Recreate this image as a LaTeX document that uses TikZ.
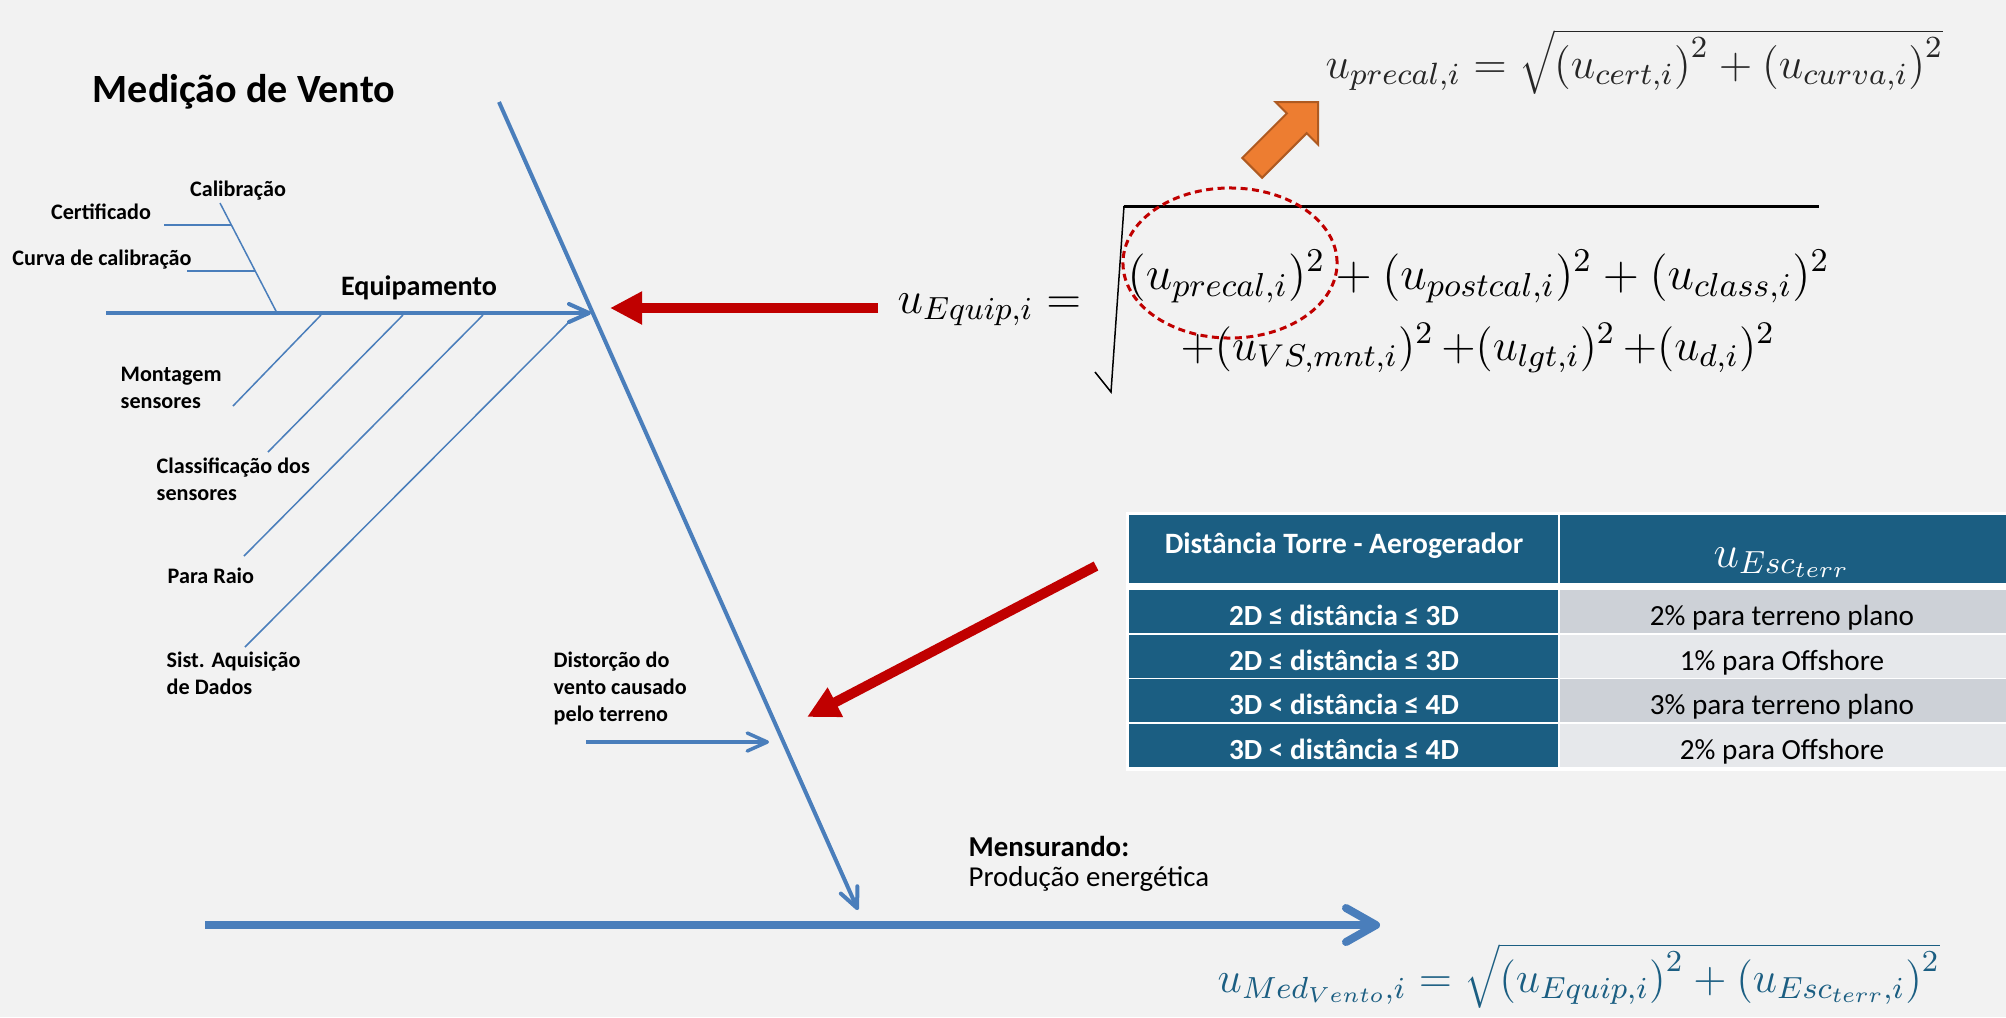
\RequirePackage{fix-cm}
\documentclass[tikz,border=0pt]{standalone}
\usepackage{fontspec}
\setmainfont{Carlito}
\usetikzlibrary{arrows.meta,shapes.geometric,shapes.arrows}
\definecolor{bgc}{HTML}{F2F2F2}
\definecolor{fish}{HTML}{4A7EBB}
\definecolor{redd}{HTML}{C00000}
\definecolor{orng}{HTML}{ED7D31}
\definecolor{orngd}{HTML}{AE5A21}
\definecolor{tabd}{HTML}{1B5E82}
\definecolor{rowa}{HTML}{CDD1D7}
\definecolor{rowb}{HTML}{E6E8EB}
\definecolor{eqgrey}{HTML}{262626}

\begin{document}
\begin{tikzpicture}[x=0.01cm,y=-0.01cm,
    every node/.style={inner sep=0pt},
    lab/.style={font=\fontsize{6.3}{7.7}\selectfont\bfseries,align=left},
    twig/.style={fish,line width=0.015cm},
    bone/.style={fish,line width=0.04cm,-{Straight Barb[length=0.2cm,width=0.18cm,round]}},
    redarr/.style={redd,line width=0.1cm,-{Triangle[length=0.32cm,width=0.31cm]}},
    eqfont/.style={font=\fontsize{13.5}{16}\selectfont},
    tabl/.style={font=\fontsize{8.3}{10}\selectfont\bfseries,text=white,anchor=base},
    tabr/.style={font=\fontsize{8.3}{10}\selectfont,anchor=base}]
  \fill[bgc] (0,0) rectangle (2006,1017);
  \useasboundingbox (0,0) rectangle (2006,1017);

  \node[font=\fontsize{11.4}{13}\selectfont\bfseries,anchor=base] (title) at (244,102) {Medição de Vento};

  % espinha principal
  \coordinate (sptop) at (499,102);
  \coordinate (spend) at (858,910);
  \draw[bone] (sptop) -- (spend);
  \coordinate (eqstart) at (106,313);
  \coordinate (eqend) at (591,313);
  \draw[bone] (eqstart) -- (eqend);
  \node[font=\fontsize{8}{10}\selectfont\bfseries,anchor=base] (equip) at (419,295) {Equipamento};

  \draw[twig] (220,203) -- (277,313);
  \draw[twig] (164,225) -- (231,225);
  \draw[twig] (187,271) -- (255,271);
  \foreach \xa/\ya/\xb/\yb in {321/315/233/406,403/315/268/452,483/315/244/556,569/322/245/647}
    \draw[twig] (\xa,\ya) -- (\xb,\yb);

  \node[lab,anchor=base] (calib) at (238,196) {Calibração};
  \node[lab,anchor=base] (cert) at (101,219) {Certificado};
  \node[lab,anchor=base] (curva) at (102,265) {Curva de calibração};
  \node[lab,anchor=north west] (mont) at (120,366) {Montagem\\sensores};
  \node[lab,anchor=north west] (classif) at (156,457) {Classificação dos\\sensores};
  \node[lab,anchor=base west] (raio) at (167,583) {Para Raio};
  \node[lab,anchor=north west] (sist) at (166,651) {Sist. Aquisição\\de Dados};
  \node[lab,anchor=north west] (distor) at (553,651) {Distorção do\\vento causado\\pelo terreno};
  \coordinate (dstart) at (586,742);
  \coordinate (dend) at (769,742);
  \draw[bone,line width=0.035cm] (dstart) -- (dend);

  % mensurando
  \coordinate (mstart) at (205,925);
  \coordinate (mend) at (1380,925);
  \draw[fish,line width=0.08cm,-{Straight Barb[length=0.3cm,width=0.34cm,round]}] (mstart) -- (mend);
  \node[font=\fontsize{8.2}{10}\selectfont\bfseries,anchor=base west] (mens) at (968,856) {Mensurando:};
  \node[font=\fontsize{8.2}{10}\selectfont,anchor=base west] (prod) at (968,886) {Produção energética};

  % formulas
  \node[font=\fontsize{12.5}{15}\selectfont,text=eqgrey,anchor=base west] (uprecal) at (1325,78)
    {$u_{precal,i} = \sqrt{\left(u_{cert,i}\right)^2 + \left(u_{curva,i}\right)^2}$};
  \node[font=\fontsize{13}{16}\selectfont,anchor=base east] (uequip) at (1082,313) {$u_{Equip,i} =$};
  \draw[line width=0.015cm] (1095,372) -- (1111,392) -- (1124,206);
  \draw[line width=0.03cm] (1124,206) -- (1819,206);
  \node[eqfont,anchor=base west] (eqla) at (1127,289)
    {$(u_{precal,i})^2 + (u_{postcal,i})^2 + (u_{class,i})^2$};
  \node[font=\fontsize{12.8}{16}\selectfont,anchor=base west] (eqlb) at (1180,360)
    {$+(u_{VS,mnt,i})^2 \,{+}(u_{lgt,i})^2 \,{+}(u_{d,i})^2$};
  \node[ellipse,draw=redd,line width=0.03cm,dash pattern=on 0.07cm off 0.045cm,
    minimum width=2.14cm,minimum height=1.5cm] (circ) at (1230,263) {};
  \node[single arrow,fill=orng,draw=orngd,line width=0.02cm,inner xsep=0pt,inner ysep=0.13cm,
    minimum height=0.93cm,single arrow head extend=0.16cm,single arrow head indent=0cm,
    rotate=45,anchor=tip] (oarr) at (1319,101) {};
  \node[font=\fontsize{12.4}{15}\selectfont,text=tabd,anchor=base west] (umed) at (1217,992)
    {$u_{Med_{Vento},i} = \sqrt{\left(u_{Equip,i}\right)^2 + \left(u_{Esc_{terr},i}\right)^2}$};

  % setas vermelhas
  \coordinate (r1a) at (878,308);
  \coordinate (r1b) at (610,308);
  \draw[redarr] (r1a) -- (r1b);
  \coordinate (r2a) at (1096,566);
  \coordinate (r2b) at (807,717);
  \draw[redarr] (r2a) -- (r2b);

  % tabela
  \fill[white] (1126,512) rectangle (2006,771);
  \fill[tabd] (1129,515) rectangle (1558,583);
  \fill[tabd] (1560,515) rectangle (2006,583);
  \node[tabl,font=\fontsize{8.4}{10}\selectfont\bfseries] (hdist) at (1344,553) {Distância Torre - Aerogerador};
  \node[font=\fontsize{13}{15}\selectfont,text=white,anchor=base] (hesc) at (1782,567) {$u_{Esc_{terr}}$};
  \foreach \y/\l/\r/\c [count=\i] in {590/{2D ≤ distância ≤ 3D}/{2\% para terreno plano}/rowa,
      634.5/{2D ≤ distância ≤ 3D}/{1\% para Offshore}/rowb,
      679/{3D < distância ≤ 4D}/{3\% para terreno plano}/rowa,
      724/{3D < distância ≤ 4D}/{2\% para Offshore}/rowb}{
    \fill[tabd] (1129,\y) rectangle (1558,\y+43);
    \fill[\c] (1560,\y) rectangle (2006,\y+43);
    \node[tabl] (dist\i) at (1344,\y+35.5) {\l};
    \node[tabr] (val\i) at (1782,\y+35.5) {\r};
  }
\end{tikzpicture}
\end{document}
